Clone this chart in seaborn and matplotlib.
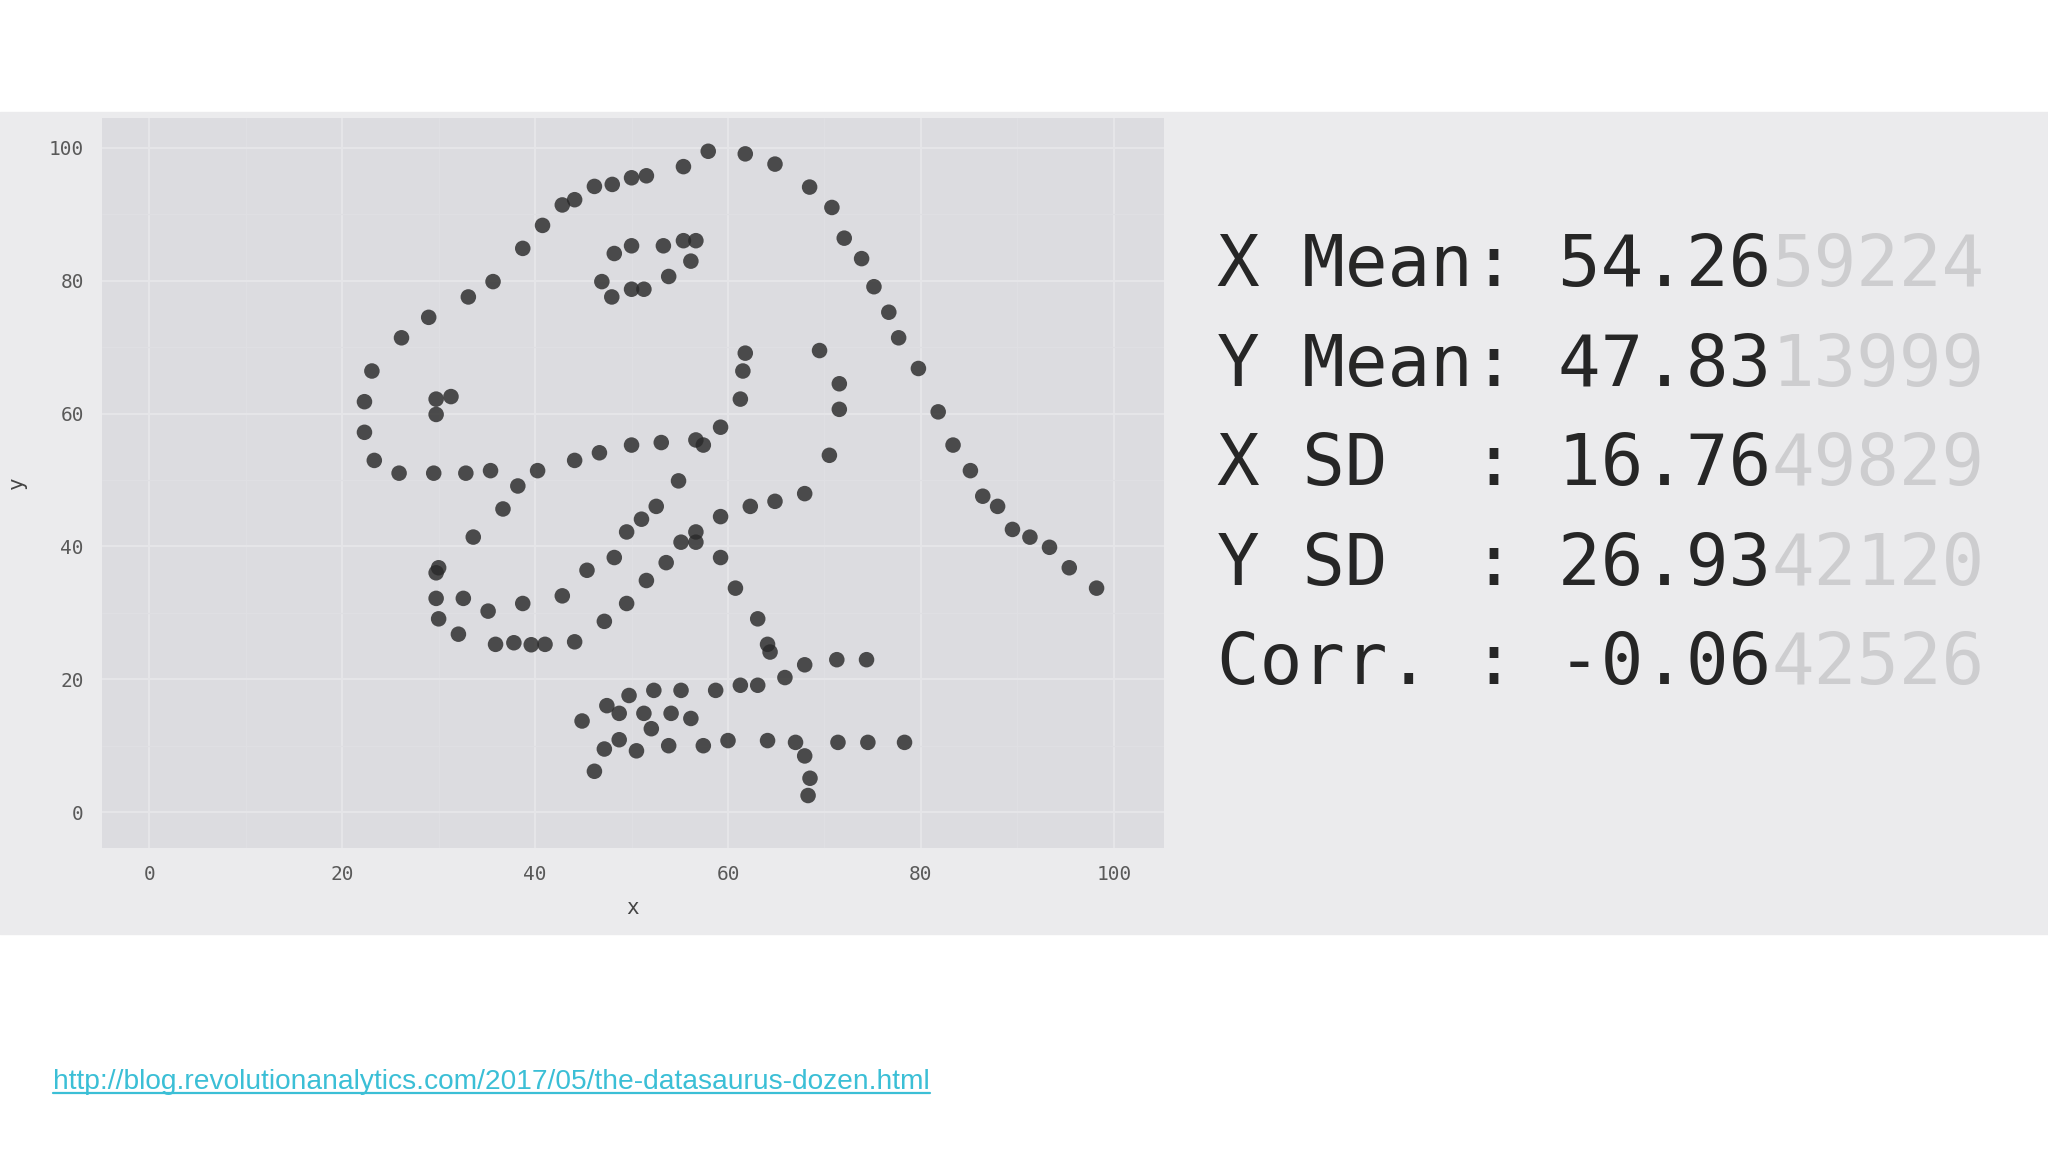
import pandas as pd
import seaborn as sns
import matplotlib.pyplot as plt
from matplotlib.patches import Rectangle
from matplotlib.lines import Line2D

# datasaurus "dino"
dino_x = [55.38, 51.54, 50.00, 48.00, 46.15, 44.10, 42.82, 40.77, 38.72, 35.64,
          33.08, 28.97, 26.15, 23.08, 22.31, 22.31, 23.33, 25.90, 29.49, 32.82,
          35.38, 40.26, 44.10, 46.67, 50.00, 53.08, 56.67, 59.23, 61.28, 61.54,
          61.79, 57.44, 54.87, 52.56, 48.21, 49.49, 51.03, 45.38, 42.82, 38.72,
          35.13, 32.56, 30.00, 33.59, 36.67, 38.21, 29.74, 29.74, 30.00, 32.05,
          35.90, 37.80, 39.60, 41.03, 44.10, 47.18, 49.49, 51.54, 53.59, 55.13,
          56.67, 59.23, 62.31, 64.87, 67.95, 70.51, 71.54, 71.54, 69.49, 46.92,
          48.21, 50.00, 53.30, 55.38, 56.67, 56.15, 53.85, 51.28, 50.00, 47.95,
          29.74, 29.74, 31.28, 57.95, 61.79, 64.87, 68.46, 70.77, 72.05, 73.85,
          75.13, 76.67, 77.69, 79.74, 81.79, 83.33, 85.13, 86.41, 87.95, 89.49,
          91.30, 93.33, 95.38, 98.21, 56.67, 59.23, 60.77, 63.08, 64.10, 64.36,
          74.36, 71.28, 67.95, 65.90, 63.08, 61.28, 58.72, 55.13, 52.31, 49.74,
          47.44, 44.87, 48.72, 51.28, 54.10, 56.15, 52.05, 48.72, 47.18, 46.15,
          50.51, 53.85, 57.44, 60.00, 64.10, 67.00, 67.95, 68.50, 68.30, 71.40,
          74.50, 78.30]
dino_y = [97.18, 95.80, 95.50, 94.50, 94.20, 92.20, 91.41, 88.33, 84.87, 79.87,
          77.56, 74.49, 71.41, 66.41, 61.79, 57.18, 52.95, 51.03, 51.03, 51.03,
          51.41, 51.41, 52.95, 54.10, 55.26, 55.64, 56.03, 57.95, 62.18, 66.41,
          69.10, 55.26, 49.87, 46.03, 38.33, 42.18, 44.10, 36.41, 32.56, 31.41,
          30.26, 32.18, 36.79, 41.41, 45.64, 49.10, 36.03, 32.18, 29.10, 26.79,
          25.26, 25.50, 25.20, 25.26, 25.64, 28.72, 31.41, 34.87, 37.56, 40.64,
          42.18, 44.49, 46.03, 46.79, 47.95, 53.72, 60.64, 64.49, 69.49, 79.87,
          84.10, 85.26, 85.26, 86.03, 86.03, 82.95, 80.64, 78.72, 78.72, 77.56,
          59.87, 62.18, 62.56, 99.49, 99.10, 97.56, 94.10, 91.03, 86.41, 83.33,
          79.10, 75.26, 71.41, 66.79, 60.26, 55.26, 51.41, 47.56, 46.03, 42.56,
          41.40, 39.87, 36.79, 33.72, 40.64, 38.33, 33.72, 29.10, 25.26, 24.10,
          22.95, 22.95, 22.18, 20.26, 19.10, 19.10, 18.33, 18.33, 18.33, 17.56,
          16.03, 13.72, 14.87, 14.87, 14.87, 14.10, 12.56, 10.90, 9.50, 6.15,
          9.23, 10.00, 10.00, 10.77, 10.77, 10.50, 8.46, 5.10, 2.50, 10.50,
          10.50, 10.50]

ticks = [0, 20, 40, 60, 80, 100]
stat_names = ["X Mean", "Y Mean", "X SD  ", "Y SD  ", "Corr. "]
stat_values = ["54.2659224", "47.8313999", "16.7649829", "26.9342120", "-0.0642526"]
link = "http://blog.revolutionanalytics.com/2017/05/the-datasaurus-dozen.html"

df = pd.DataFrame({"x": dino_x, "y": dino_y})

sns.set_style("darkgrid", {"axes.facecolor": "#dcdce0", "grid.color": "#e5e5e8"})
plt.rcParams["font.family"] = ["DejaVu Sans Mono", "DejaVu Sans"]

W, H = 2048, 1152
fig = plt.figure(figsize=(20.48, 11.52), dpi=100, facecolor="white")

# light grey band behind plot + stats
fig.patches.append(Rectangle((0, 1 - 934 / H), 1, (934 - 112) / H,
                             transform=fig.transFigure, color="#ebebed", zorder=-5))

ax = fig.add_axes([102 / W, 1 - 848 / H, (1164 - 102) / W, (848 - 118) / H])
ax.set_zorder(2)
sns.scatterplot(data=df, x="x", y="y", ax=ax, s=125, color="#2a2a2a",
                alpha=0.82, edgecolor="none", legend=False)

ax.set_xlim(-4.9, 105.2)
ax.set_ylim(-5.4, 104.5)
ax.set_xticks(ticks)
ax.set_yticks(ticks)
ax.set_xticks([10, 30, 50, 70, 90], minor=True)
ax.set_yticks([10, 30, 50, 70, 90], minor=True)
ax.grid(which="major", color="#e5e5e8", linewidth=1.5)
ax.grid(which="minor", color="#dfdfe3", linewidth=0.8)
ax.tick_params(which="both", length=0, labelsize=14, labelcolor="#595959")
ax.tick_params(axis="x", pad=12)
ax.tick_params(axis="y", pad=13)
ax.set_xlabel("x", fontsize=15, color="#444444", labelpad=10)
ax.set_ylabel("y", fontsize=15, color="#444444", labelpad=16)
for sp in ax.spines.values():
    sp.set_visible(False)

# summary statistics, last digits greyed out
fs = 51
char_w = 0.6021 * fs * 100 / 72  # DejaVu Sans Mono advance, px
x0 = 1217
baselines = [286, 386, 485, 585, 684]
for name, val, by in zip(stat_names, stat_values, baselines):
    short = f"{name}: {val[:5]}"
    fig.text(x0 / W, 1 - by / H, short, fontsize=fs, color="#262626",
             family="DejaVu Sans Mono", va="baseline", ha="left")
    fig.text((x0 + len(short) * char_w) / W, 1 - by / H, val[5:], fontsize=fs,
             color="#cdcdcf", family="DejaVu Sans Mono", va="baseline", ha="left")

# source link, underlined
url = fig.text(53 / W, 1 - 1089 / H, link, fontsize=20.25, color="#3bbfd6",
               family="Liberation Sans", va="baseline", ha="left")
fig.canvas.draw()
bb = url.get_window_extent().transformed(fig.transFigure.inverted())
fig.lines.append(Line2D([bb.x0, bb.x1], [1 - 1093 / H] * 2, color="#3bbfd6",
                        linewidth=1.6, transform=fig.transFigure))

fig.savefig("out.png", dpi=100, facecolor="white")
